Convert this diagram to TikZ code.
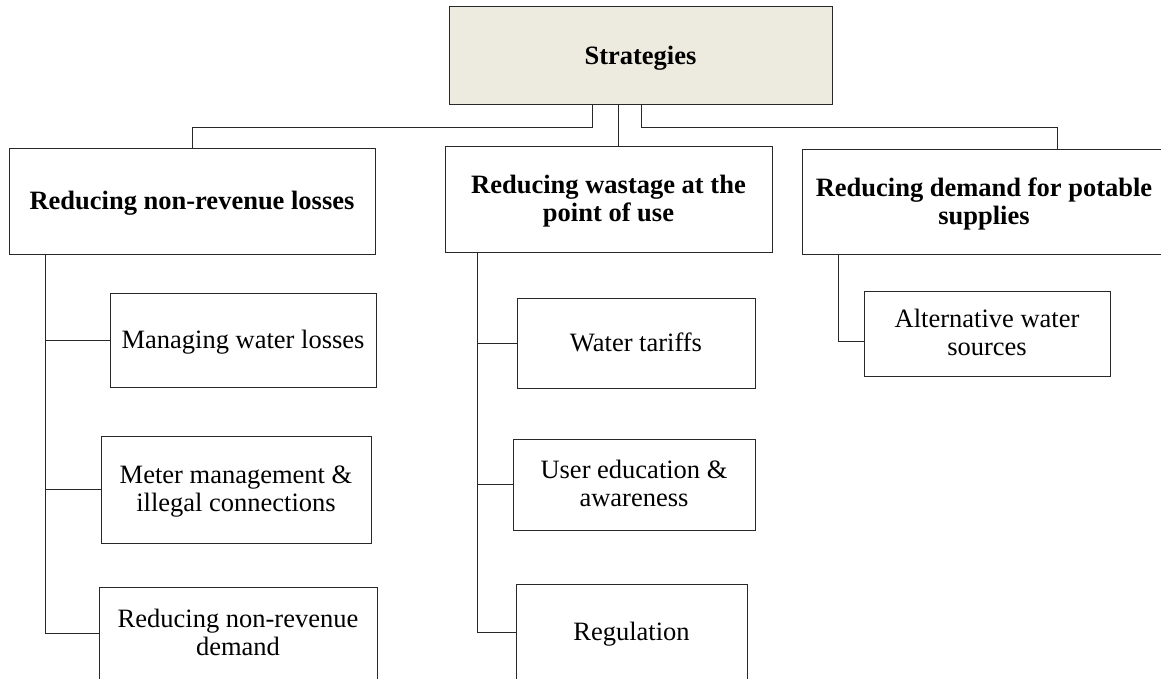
\documentclass[tikz,border=0pt]{standalone}
\usepackage{fontspec}
\setmainfont{Liberation Serif}
\definecolor{topfill}{RGB}{237,234,224}
\definecolor{linec}{RGB}{40,40,40}
\newcommand\tx[1]{\raisebox{-2.5pt}[\height][\depth]{\begin{tabular}{@{}c@{}}#1\end{tabular}}}
\begin{document}
\begin{tikzpicture}[x=1pt,y=-1pt,
  box/.style={draw=linec, line width=1pt, align=center, inner sep=0pt,
    font=\fontsize{26.5}{28}\selectfont},
  wire/.style={draw=linec, line width=1pt}]
\useasboundingbox (0,0) rectangle (1161,679);
\clip (0,0) rectangle (1161,679);
\fill[white] (0,0) rectangle (1161,679);

\node[box, fill=topfill, minimum width=383pt, minimum height=98pt] (top) at (640.5,56) {\tx{\textbf{Strategies}}};

\node[box, minimum width=366pt, minimum height=105pt] (L1) at (192,201.5) {\tx{\textbf{Reducing non-revenue losses}}};
\node[box, minimum width=327pt, minimum height=105pt] (L2) at (608.5,199.5) {\tx{\textbf{Reducing wastage at the}\\\textbf{point of use}}};
\node[box, minimum width=364pt, minimum height=104pt] (L3) at (984,202) {\tx{\textbf{Reducing demand for potable}\\\textbf{supplies}}};

\node[box, minimum width=266pt, minimum height=94pt] (A1) at (243,340) {\tx{Managing water losses}};
\node[box, minimum width=270pt, minimum height=107pt] (A2) at (236,489.5) {\tx{Meter management \&\\illegal connections}};
\node[box, minimum width=278pt, minimum height=93pt] (A3) at (238,633.5) {\tx{Reducing non-revenue\\demand}};

\node[box, minimum width=238pt, minimum height=90pt] (B1) at (636,343) {\tx{Water tariffs}};
\node[box, minimum width=242pt, minimum height=91pt] (B2) at (634,484.5) {\tx{User education \&\\awareness}};
\node[box, minimum width=231pt, minimum height=96pt] (B3) at (631.5,632) {\tx{Regulation}};

\node[box, minimum width=246pt, minimum height=85pt] (C1) at (987,333.5) {\tx{Alternative water\\sources}};

% top level connectors
\draw[wire] ([xshift=-48.5pt]top.south) -- ++(0,22) -| (L1.north);
\draw[wire] ([xshift=-22.5pt]top.south) -- ([xshift=-22.5pt]top.south |- L2.north);
\draw[wire] ([xshift=0.5pt]top.south) -- ++(0,22) -| ([xshift=73pt]L3.north);

% left subtree
\coordinate (la) at ([xshift=37pt]L1.south west);
\draw[wire] (la) |- (A3.west);
\draw[wire] (la) |- (A1.west);
\draw[wire] (la) |- (A2.west);

% middle subtree
\coordinate (lb) at ([xshift=33pt]L2.south west);
\draw[wire] (lb) |- (B3.west);
\draw[wire] (lb) |- (B1.west);
\draw[wire] (lb) |- (B2.west);

% right subtree
\coordinate (lc) at ([xshift=37pt]L3.south west);
\draw[wire] (lc) |- ([yshift=-7.5pt]C1.west);
\end{tikzpicture}
\end{document}
